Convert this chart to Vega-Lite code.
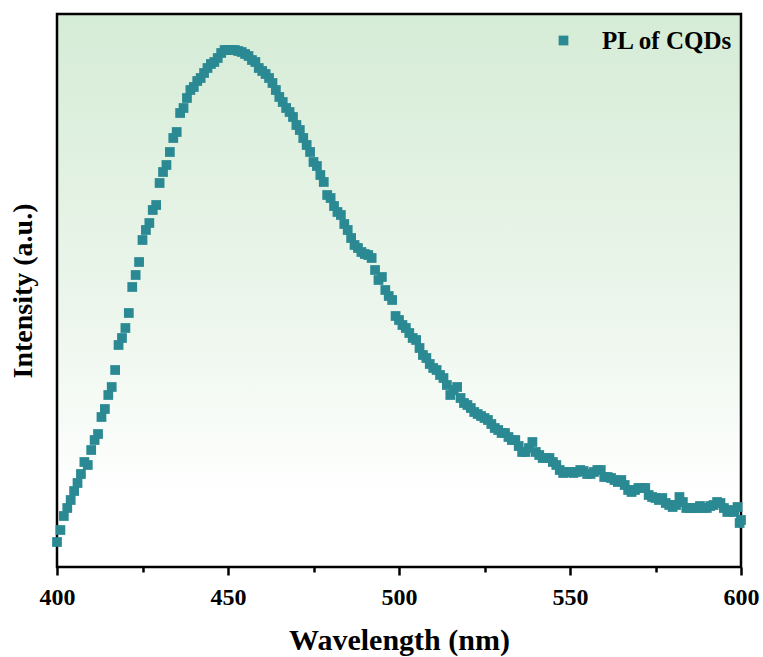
{
  "$schema": "https://vega.github.io/schema/vega-lite/v6.json",
  "width": 684,
  "height": 553,
  "autosize": "none",
  "padding": {"left": 57, "top": 14, "right": 22, "bottom": 90},
  "background": "white",
  "config": {
    "view": {
      "stroke": "black",
      "strokeWidth": 2.5,
      "fill": {
        "gradient": "linear",
        "x1": 0, "y1": 0, "x2": 0, "y2": 1,
        "stops": [
          {"offset": 0, "color": "#d5ecd6"},
          {"offset": 0.55, "color": "#edf6ed"},
          {"offset": 0.88, "color": "#ffffff"},
          {"offset": 1, "color": "#ffffff"}
        ]
      }
    },
    "font": "Liberation Serif"
  },
  "data": {
    "values": [
      {"w":400,"v":25},{"w":401,"v":37},{"w":402,"v":51},{"w":403,"v":59},{"w":404,"v":67},
      {"w":405,"v":76},{"w":406,"v":84},{"w":407,"v":93},{"w":408,"v":105},{"w":409,"v":102},
      {"w":410,"v":117},{"w":411,"v":127},{"w":412,"v":133},{"w":413,"v":150},{"w":414,"v":158},
      {"w":415,"v":172},{"w":416,"v":180},{"w":417,"v":197},{"w":418,"v":222},{"w":419,"v":229},
      {"w":420,"v":239},{"w":421,"v":254},{"w":422,"v":280},{"w":423,"v":292},{"w":424,"v":305},
      {"w":425,"v":327},{"w":426,"v":337},{"w":427,"v":344},{"w":428,"v":357},{"w":429,"v":362},
      {"w":430,"v":384},{"w":431,"v":395},{"w":432,"v":402},{"w":433,"v":415},{"w":434,"v":429},
      {"w":435,"v":435},{"w":436,"v":454},{"w":437,"v":459},{"w":438,"v":469},{"w":439,"v":477},
      {"w":440,"v":480},{"w":441,"v":486},{"w":442,"v":489},{"w":443,"v":494},{"w":444,"v":499},
      {"w":445,"v":503},{"w":446,"v":505},{"w":447,"v":509},{"w":448,"v":514},{"w":449,"v":517},
      {"w":450,"v":517},{"w":451,"v":517},{"w":452,"v":517},{"w":453,"v":516},{"w":454,"v":515},
      {"w":455,"v":513},{"w":456,"v":511},{"w":457,"v":507},{"w":458,"v":505},{"w":459,"v":499},
      {"w":460,"v":496},{"w":461,"v":493},{"w":462,"v":489},{"w":463,"v":484},{"w":464,"v":477},
      {"w":465,"v":470},{"w":466,"v":465},{"w":467,"v":459},{"w":468,"v":455},{"w":469,"v":450},
      {"w":470,"v":442},{"w":471,"v":437},{"w":472,"v":429},{"w":473,"v":422},{"w":474,"v":415},
      {"w":475,"v":405},{"w":476,"v":401},{"w":477,"v":392},{"w":478,"v":385},{"w":479,"v":372},
      {"w":480,"v":369},{"w":481,"v":361},{"w":482,"v":355},{"w":483,"v":352},{"w":484,"v":343},
      {"w":485,"v":337},{"w":486,"v":329},{"w":487,"v":322},{"w":488,"v":319},{"w":489,"v":315},
      {"w":490,"v":313},{"w":491,"v":312},{"w":492,"v":309},{"w":493,"v":297},{"w":494,"v":287},
      {"w":495,"v":290},{"w":496,"v":277},{"w":497,"v":271},{"w":498,"v":267},{"w":499,"v":251},
      {"w":500,"v":247},{"w":501,"v":242},{"w":502,"v":239},{"w":503,"v":234},{"w":504,"v":229},
      {"w":505,"v":227},{"w":506,"v":219},{"w":507,"v":212},{"w":508,"v":209},{"w":509,"v":203},
      {"w":510,"v":199},{"w":511,"v":197},{"w":512,"v":192},{"w":513,"v":189},{"w":514,"v":182},
      {"w":515,"v":172},{"w":516,"v":177},{"w":517,"v":180},{"w":518,"v":169},{"w":519,"v":164},
      {"w":520,"v":162},{"w":521,"v":159},{"w":522,"v":155},{"w":523,"v":153},{"w":524,"v":151},
      {"w":525,"v":149},{"w":526,"v":147},{"w":527,"v":143},{"w":528,"v":139},{"w":529,"v":137},
      {"w":530,"v":134},{"w":531,"v":134},{"w":532,"v":130},{"w":533,"v":127},{"w":534,"v":127},
      {"w":535,"v":121},{"w":536,"v":115},{"w":537,"v":115},{"w":538,"v":119},{"w":539,"v":125},
      {"w":540,"v":115},{"w":541,"v":112},{"w":542,"v":109},{"w":543,"v":109},{"w":544,"v":109},
      {"w":545,"v":105},{"w":546,"v":102},{"w":547,"v":97},{"w":548,"v":94},{"w":549,"v":95},
      {"w":550,"v":95},{"w":551,"v":94},{"w":552,"v":95},{"w":553,"v":97},{"w":554,"v":96},
      {"w":555,"v":93},{"w":556,"v":93},{"w":557,"v":95},{"w":558,"v":97},{"w":559,"v":97},
      {"w":560,"v":90},{"w":561,"v":90},{"w":562,"v":89},{"w":563,"v":87},{"w":564,"v":85},
      {"w":565,"v":87},{"w":566,"v":82},{"w":567,"v":77},{"w":568,"v":75},{"w":569,"v":77},
      {"w":570,"v":79},{"w":571,"v":79},{"w":572,"v":79},{"w":573,"v":72},{"w":574,"v":70},
      {"w":575,"v":69},{"w":576,"v":67},{"w":577,"v":69},{"w":578,"v":64},{"w":579,"v":62},
      {"w":580,"v":60},{"w":581,"v":62},{"w":582,"v":70},{"w":583,"v":65},{"w":584,"v":59},
      {"w":585,"v":59},{"w":586,"v":59},{"w":587,"v":59},{"w":588,"v":61},{"w":589,"v":59},
      {"w":590,"v":59},{"w":591,"v":61},{"w":592,"v":62},{"w":593,"v":65},{"w":594,"v":64},
      {"w":595,"v":59},{"w":596,"v":55},{"w":597,"v":57},{"w":598,"v":55},{"w":599,"v":60},
      {"w":599.6,"v":44},{"w":600,"v":47}
    ]
  },
  "mark": {"type": "square", "size": 95, "opacity": 1, "filled": true},
  "encoding": {
    "x": {
      "field": "w",
      "type": "quantitative",
      "scale": {"domain": [400, 600], "nice": false, "zero": false},
      "axis": {
        "title": "Wavelength (nm)",
        "values": [400, 425, 450, 475, 500, 525, 550, 575, 600],
        "labelExpr": "datum.value % 50 === 0 ? datum.label : ''",
        "grid": false,
        "domain": false,
        "tickColor": "black",
        "tickWidth": 2.5,
        "tickSize": {"condition": {"test": "datum.value % 50 === 0", "value": 8}, "value": 5},
        "labelFont": "Liberation Serif",
        "labelFontWeight": "bold",
        "labelFontSize": 24,
        "labelColor": "black",
        "labelPadding": 10,
        "labelFlush": false,
        "titleFont": "Liberation Serif",
        "titleFontWeight": "bold",
        "titleFontSize": 30,
        "titleColor": "black",
        "titlePadding": 16
      }
    },
    "y": {
      "field": "v",
      "type": "quantitative",
      "scale": {"domain": [0, 553], "nice": false},
      "axis": {
        "title": "Intensity (a.u.)",
        "labels": false,
        "ticks": false,
        "grid": false,
        "domain": false,
        "titleFont": "Liberation Serif",
        "titleFontWeight": "bold",
        "titleFontSize": 28,
        "titleColor": "black",
        "titlePadding": 20
      }
    },
    "color": {
      "datum": "PL of CQDs",
      "scale": {"range": ["#2a8993"]},
      "legend": {
        "title": null,
        "orient": "none",
        "legendX": 494,
        "legendY": 14,
        "symbolType": "square",
        "symbolSize": 95,
        "symbolOpacity": 1,
        "labelFont": "Liberation Serif",
        "labelFontWeight": "bold",
        "labelFontSize": 25,
        "labelColor": "black",
        "labelOffset": 26,
        "padding": 0
      }
    }
  }
}
